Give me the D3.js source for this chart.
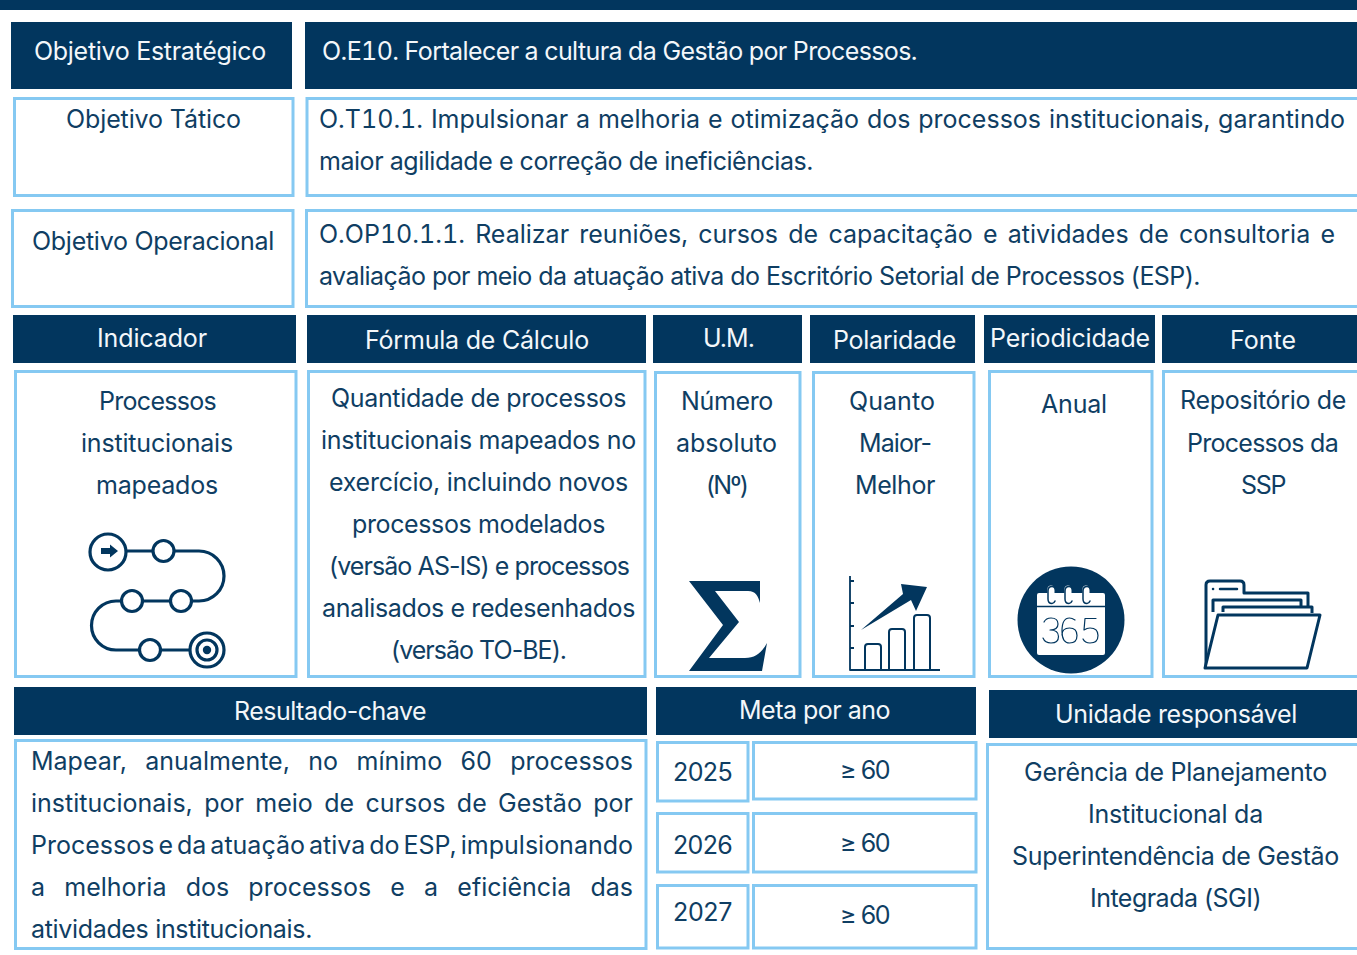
<!DOCTYPE html>
<html lang="pt">
<head>
<meta charset="utf-8">
<title>Objetivo Estratégico O.E10</title>
<script src="https://cdn.jsdelivr.net/npm/d3@7"></script>
<style>
  html, body { margin: 0; padding: 0; background: #fff; overflow: hidden; }
  svg { display: block; }
  text { font-family: Inter, "Open Sans", sans-serif; font-size: 25px; white-space: pre; }
</style>
</head>
<body>
<svg id="vis" width="1357" height="955"></svg>
<script>
// texts of the sheet
const headLabels = ["Objetivo Estratégico", "O.E10. Fortalecer a cultura da Gestão por Processos."];
const tacticLabel = ["Objetivo Tático"];
const tacticLines = ["O.T10.1. Impulsionar a melhoria e otimização dos processos institucionais, garantindo", "maior agilidade e correção de ineficiências."];
const operLabel = ["Objetivo Operacional"];
const operLines = ["O.OP10.1.1. Realizar reuniões, cursos de capacitação e atividades de consultoria e", "avaliação por meio da atuação ativa do Escritório Setorial de Processos (ESP)."];
const columnHeads = ["Indicador", "Fórmula de Cálculo", "U.M.", "Polaridade", "Periodicidade", "Fonte"];
const indicatorLines = ["Processos", "institucionais", "mapeados"];
const formulaLines = ["Quantidade de processos", "institucionais mapeados no", "exercício, incluindo novos", "processos modelados", "(versão AS-IS) e processos", "analisados e redesenhados", "(versão TO-BE)."];
const unitLines = ["Número", "absoluto", "(Nº)"];
const polarityLines = ["Quanto", "Maior-", "Melhor"];
const periodLines = ["Anual"];
const sourceLines = ["Repositório de", "Processos da", "SSP"];
const lowerHeads = ["Resultado-chave", "Meta por ano", "Unidade responsável"];
const resultLines = ["Mapear, anualmente, no mínimo 60 processos", "institucionais, por meio de cursos de Gestão por", "Processos e da atuação ativa do ESP, impulsionando", "a melhoria dos processos e a eficiência das", "atividades institucionais."];
const years = ["2025", "2026", "2027"];
const targets = ["≥ 60", "≥ 60", "≥ 60"];
const unitRespLines = ["Gerência de Planejamento", "Institucional da", "Superintendência de Gestão", "Integrada (SGI)"];

const DARK = "#02365e";
const INK = "#0f3e63";
const SKY = "#85c9f2";

const svg = d3.select("#vis");

// boxes: x0, y0, x1, y1
const darkBoxes = [
    [0, 0, 1357, 10], [11, 22, 292, 89], [305, 22, 1357, 89],
    [13, 315, 296, 363], [307, 315, 646, 363], [653, 315, 802, 363],
    [810, 315, 975, 363], [984, 315, 1155, 363], [1162, 315, 1357, 363],
    [14, 687, 647, 735], [656, 687, 976, 735], [989, 690, 1357, 738]
];
const lightBoxes = [
    [14.5, 98.5, 293, 195.5], [307, 98.5, 1360, 195.5],
    [12.5, 210.5, 293, 306.5], [306.5, 210.5, 1360, 306.5],
    [15.5, 371.5, 296, 676.5], [308.5, 371.5, 645, 676.5], [655.5, 372.5, 800, 676.5],
    [813.5, 372.5, 974, 676.5], [989.5, 371.5, 1152, 676.5], [1163.5, 371.5, 1360, 676.5],
    [15.5, 740.5, 646, 948.5],
    [657.5, 742.5, 748, 801], [753.5, 742.5, 976, 799],
    [657.5, 813.5, 748, 872], [753.5, 813.5, 976, 872],
    [657.5, 885.5, 748, 948], [753.5, 885.5, 976, 948],
    [987.5, 744.5, 1360, 948.5]
];

svg.selectAll("rect.dark").data(darkBoxes).enter().append("rect")
    .attr("class", "dark")
    .attr("x", d => d[0]).attr("y", d => d[1])
    .attr("width", d => d[2] - d[0]).attr("height", d => d[3] - d[1])
    .attr("fill", DARK);

svg.selectAll("rect.light").data(lightBoxes).enter().append("rect")
    .attr("class", "light")
    .attr("x", d => d[0]).attr("y", d => d[1])
    .attr("width", d => d[2] - d[0]).attr("height", d => d[3] - d[1])
    .attr("fill", "#fff").attr("stroke", SKY).attr("stroke-width", 3);

// write one text between x0 and x1, spreading words (just) or letters to fill it
function put(str, x0, x1, y, color, just) {
    const t = svg.append("text").attr("x", x0).attr("y", y).attr("fill", color).text(str);
    // the objective codes have wide 1s in the original font
    if (/^O\./.test(str)) t.style("font-feature-settings", '"tnum"');
    const gap = (x1 - x0) - t.node().getComputedTextLength();
    if (just) {
        t.attr("word-spacing", gap / (str.split(" ").length - 1));
    } else {
        t.attr("letter-spacing", gap / str.length);
    }
    return t;
}
function block(lines, spans, color, just) {
    lines.forEach((s, i) => put(s, spans[i][0], spans[i][1], spans[i][2], color, just && just[i]));
}

const WHITE = "#f3f7fa";
block(headLabels, [[34, 266, 60], [322, 917, 60]], WHITE);
block(tacticLabel, [[66, 241, 128]], INK);
block(tacticLines, [[319, 1345, 128], [319, 813, 170]], INK, [true, false]);
block(operLabel, [[32, 274, 250]], INK);
block(operLines, [[319, 1335, 243], [319, 1200, 285]], INK, [true, false]);
block(columnHeads, [[97, 207, 347], [365, 589, 349], [703, 754, 347], [833, 956, 349], [990, 1150, 347], [1230, 1296, 349]], WHITE);
block(indicatorLines, [[99, 216, 410], [81, 233, 452], [96, 218, 494]], INK);
block(formulaLines, [[331, 626, 407], [321, 636, 449], [329, 628, 491], [352, 605, 533], [329, 629, 575], [322, 635, 617], [391, 566, 659]], INK);
block(unitLines, [[681, 773, 410], [676, 777, 452], [706, 747, 494]], INK);
block(polarityLines, [[849, 935, 410], [859, 931, 452], [855, 935, 494]], INK);
block(periodLines, [[1041, 1107, 413]], INK);
block(sourceLines, [[1180, 1346, 409], [1187, 1338, 452], [1241, 1285, 494]], INK);
block(lowerHeads, [[234, 426, 720], [739, 890, 719], [1055, 1297, 723]], WHITE);
block(resultLines, [[31, 633, 770], [31, 633, 812], [31, 633, 854], [31, 633, 896], [31, 312, 938]], INK, [true, true, true, true, false]);
block(years, [[673, 732, 781], [673, 732, 854], [673, 732, 921]], INK);
block(targets, [[840, 889, 779], [840, 889, 852], [840, 889, 924]], INK);
block(unitRespLines, [[1024, 1327, 781], [1088, 1263, 823], [1012, 1339, 865], [1090, 1261, 907]], INK);

// icons
const icons = svg.append("g").attr("fill", "none").attr("stroke", DARK).attr("stroke-linejoin", "round");

// process map
const route = d3.path();
route.moveTo(126, 551); route.lineTo(199, 551);
route.arc(199, 576, 25, -Math.PI / 2, Math.PI / 2);
route.lineTo(116, 601);
route.arc(116, 625.5, 24.5, -Math.PI / 2, Math.PI / 2, true);
route.lineTo(190, 650);
icons.append("path").attr("d", route.toString()).attr("stroke-width", 3.2);
const nodes = [[108, 552, 18], [163.5, 551, 10.5], [181, 601, 10.5], [132, 601, 10.5], [150, 650, 10.5], [207, 650, 17], [207, 650, 10]];
icons.selectAll("circle.node").data(nodes).enter().append("circle")
    .attr("class", "node").attr("cx", d => d[0]).attr("cy", d => d[1]).attr("r", d => d[2])
    .attr("fill", "#fff").attr("stroke-width", 3.2);
icons.append("circle").attr("cx", 207).attr("cy", 650).attr("r", 4.2).attr("fill", DARK).attr("stroke", "none");
icons.append("path").attr("d", "M101 548H110V544.5L118 551L110 557.5V554H101Z").attr("fill", DARK).attr("stroke", "none");

// sigma
icons.append("path")
    .attr("d", "M689 581H760L760 603C758 596 756 591 748 591H715L739 622L709 658H745C756 658 762 652 767 643L762 671H689L723 625Z")
    .attr("fill", DARK).attr("stroke", "none");

// rising chart
icons.append("path").attr("stroke-width", 1.8)
    .attr("d", "M850 576V670H940M850 581H854M850 603H854M850 626H854M850 648H854");
[[865, 644], [889, 629], [914, 615]].forEach(b => {
    icons.append("path").attr("stroke-width", 2)
        .attr("d", `M${b[0]} 670V${b[1] + 3}Q${b[0]} ${b[1]} ${b[0] + 3} ${b[1]}H${b[0] + 13}Q${b[0] + 16} ${b[1]} ${b[0] + 16} ${b[1] + 3}V670`);
});
icons.append("path").attr("d", "M861 630L903 594L901 584L927 587L916 611L911 600Z").attr("fill", DARK).attr("stroke", "none");

// calendar
icons.append("circle").attr("cx", 1071).attr("cy", 620).attr("r", 53.5).attr("fill", DARK).attr("stroke", "none");
icons.append("rect").attr("x", 1037).attr("y", 593).attr("width", 68).attr("height", 62).attr("rx", 2).attr("fill", "#fff").attr("stroke", "none");
icons.append("path").attr("d", "M1037 606.5H1105").attr("stroke-width", 1.4);
[1052, 1069, 1087].forEach(x => {
    icons.append("path").attr("stroke", "#fff").attr("stroke-width", 7).attr("stroke-linecap", "round")
        .attr("d", `M${x - 1} 601V589`);
    icons.append("path").attr("stroke", DARK).attr("stroke-width", 1.5).attr("stroke-linecap", "round")
        .attr("d", `M${x + 4} 591Q${x + 3} 586.5 ${x} 586.5Q${x - 4} 586.5 ${x - 4} 591V599Q${x - 4} 603.5 ${x} 603.5Q${x + 2} 603.5 ${x + 3} 601`);
});
// the 365 is a thin drawn figure in the original artwork
icons.append("path").attr("stroke-width", 1.2).attr("stroke-linecap", "round")
    .attr("d", "M1044 622Q1046 618 1051 618Q1058 618 1058 624Q1058 630 1050 630Q1058.5 630 1058.5 636.5Q1058.5 643 1051 643Q1045 643 1043 638"
        + "M1075 620Q1072 618 1069.5 618Q1062 618 1062 631Q1062 643 1069.5 643Q1077 643 1077 635.5Q1077 628 1069.5 628Q1062 628 1062 635"
        + "M1096 618.5H1085L1084 630Q1087 628 1090 628Q1098 628 1098 635.5Q1098 643 1090 643Q1085 643 1083 639");

// folder
icons.append("path").attr("stroke-width", 3)
    .attr("d", "M1206 668V585Q1206 581 1210 581H1240Q1244 581 1244 585V593H1308V607");
icons.append("path").attr("stroke-width", 3).attr("d", "M1213 612V600H1301V607");
icons.append("path").attr("stroke-width", 3).attr("d", "M1223 612V607H1312V613");
icons.append("path").attr("stroke-width", 3).attr("fill", "#fff").attr("d", "M1218 615H1320L1307 668H1205Z");
icons.append("path").attr("stroke-width", 2.5).attr("stroke-linecap", "round").attr("d", "M1213 589H1213.1M1220 589H1237");
</script>
</body>
</html>
